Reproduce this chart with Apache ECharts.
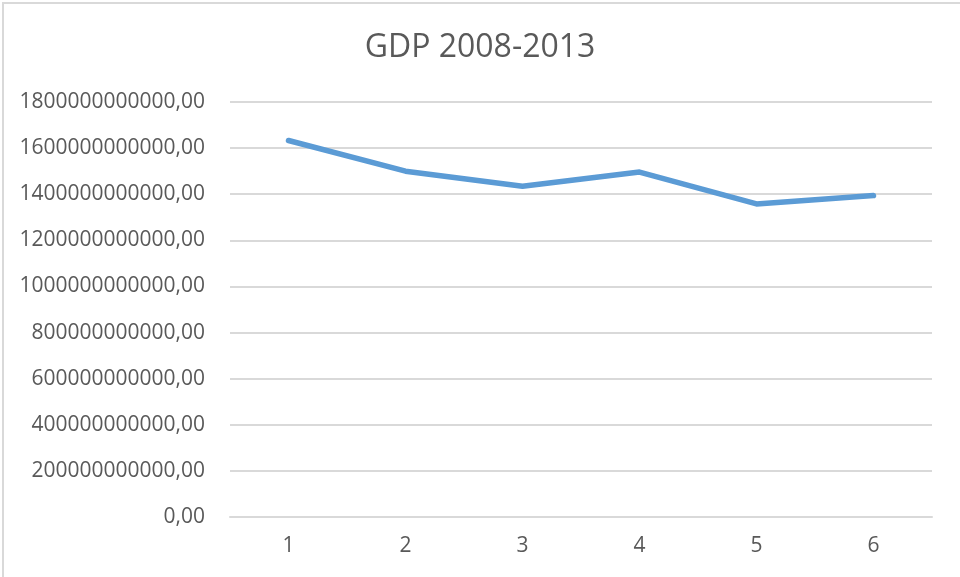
<!DOCTYPE html>
<html>
<head>
<meta charset="utf-8">
<script src="https://cdn.jsdelivr.net/npm/echarts@6/dist/echarts.min.js"></script>
<style>
  html, body { margin: 0; padding: 0; background: #fff; }
  #frame {
    position: absolute; left: 0; top: 0; width: 960px; height: 577px;
  }
  #edge {
    position: absolute; left: 2px; top: 2px; width: 958px; height: 575px;
    border-top: 2px solid #d9d9d9; border-left: 2px solid #d9d9d9;
    box-sizing: border-box; pointer-events: none;
  }
  #chart { position: absolute; left: 0; top: 0; width: 960px; height: 577px; }
</style>
</head>
<body>
<div id="frame">
  <div id="chart"></div>
  <div id="edge"></div>
</div>
<script>
// Data
const categories = ["1", "2", "3", "4", "5", "6"];
const gdpValues = [1633e9, 1500e9, 1435e9, 1496e9, 1358e9, 1394e9];
const yTicks = [0, 200e9, 400e9, 600e9, 800e9, 1000e9, 1200e9, 1400e9, 1600e9, 1800e9];

document.addEventListener("DOMContentLoaded", function () {
  const chartEl = document.getElementById("chart");
  const chart = echarts.init(chartEl);
  const option = {
    animation: false,
    title: {
      text: "GDP 2008-2013",
      left: "center",
      top: 27,
      textStyle: {
        fontFamily: "Open Sans",
        fontSize: 32,
        fontWeight: "normal",
        color: "#595959",
      },
    },
    grid: {
      left: 230,
      right: 28,
      top: 102,
      bottom: 60,
    },
    xAxis: {
      type: "category",
      data: categories,
      axisLine: {
        lineStyle: {
          color: "#d9d9d9",
          width: 2,
        },
      },
      axisTick: { show: false },
      axisLabel: {
        color: "#595959",
        fontFamily: "Open Sans",
        fontSize: 21,
        margin: 19,
      },
    },
    yAxis: {
      type: "value",
      min: yTicks[0],
      max: yTicks[yTicks.length - 1],
      interval: yTicks[1] - yTicks[0],
      axisLine: { show: false },
      axisTick: { show: false },
      axisLabel: {
        color: "#595959",
        fontFamily: "Open Sans",
        fontSize: 21,
        margin: 25,
        formatter: function (v) {
          return v.toFixed(2).replace(".", ",");
        },
      },
      splitLine: {
        lineStyle: {
          color: "#d9d9d9",
          width: 2,
        },
      },
    },
    series: [
      {
        name: "GDP",
        type: "line",
        symbol: "none",
        lineStyle: {
          width: 5.5,
          color: "#5b9bd5",
          cap: "round",
          join: "round",
        },
        data: gdpValues,
      },
    ],
  };
  chart.setOption(option);

  window.addEventListener("resize", function () {
    chart.resize();
  });
});
</script>
</body>
</html>
